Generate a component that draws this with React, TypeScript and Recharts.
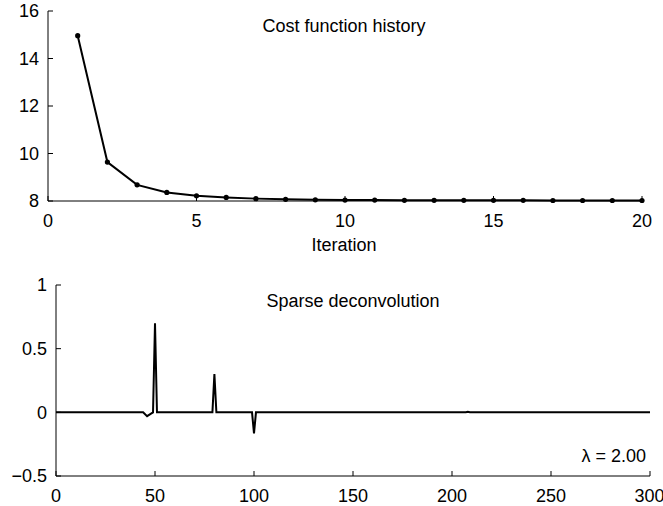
import { LineChart, Line, XAxis, YAxis } from 'recharts';

// cost function history (top panel)
const iterations = [1, 2, 3, 4, 5, 6, 7, 8, 9, 10, 11, 12, 13, 14, 15, 16, 17, 18, 19, 20];
const costValues = [14.96, 9.64, 8.68, 8.36, 8.22, 8.15, 8.1, 8.07, 8.05, 8.04, 8.04, 8.03, 8.03, 8.03, 8.03, 8.03, 8.02, 8.02, 8.02, 8.02];
const costXTicks = [0, 5, 10, 15, 20];
const costYTicks = [8, 10, 12, 14, 16];

// sparse deconvolution (bottom panel) - breakpoints of the signal
const signalIndex = [0, 44, 46, 48, 49, 50, 51, 79, 80, 81, 99, 100, 101, 207, 208, 209, 300];
const signalValue = [0, 0, -0.03, -0.01, 0, 0.7, 0, 0, 0.3, 0, 0, -0.165, 0, 0, 0.004, 0, 0];
const signalXTicks = [0, 50, 100, 150, 200, 250, 300];
const signalYTicks = [-0.5, 0, 0.5, 1];

const FONT = '"Liberation Sans", Arial, Helvetica, sans-serif';
const tickStyle = { fill: '#000', fontSize: 18, fontFamily: FONT };

const fmt = (v: number) => (v < 0 ? '\u2212' + Math.abs(v) : String(v));

export default function App() {
  const costData = iterations.map((it, i) => ({ it, cost: costValues[i] }));
  const signalData = signalIndex.map((n, i) => ({ n, v: signalValue[i] }));

  return (
    <div style={{ position: 'absolute', left: 0, top: 0, width: 663, height: 506, background: '#fff', fontFamily: FONT, overflow: 'hidden' }}>
      <div style={{ position: 'absolute', left: 0, top: 0 }}>
        <LineChart width={663} height={255} data={costData} margin={{ top: 11, right: 21, left: 8, bottom: 24 }}>
          <XAxis
            dataKey="it"
            type="number"
            domain={[0, 20]}
            ticks={costXTicks}
            stroke="#000"
            tickSize={-5}
            tickMargin={18}
            tick={tickStyle}
            height={30}
          />
          <YAxis
            type="number"
            domain={[8, 16]}
            ticks={costYTicks}
            stroke="#000"
            tickSize={-5}
            tickMargin={14}
            tick={tickStyle}
            width={40}
          />
          <Line
            dataKey="cost"
            type="linear"
            stroke="#000"
            strokeWidth={2}
            dot={{ r: 2.6, fill: '#000', stroke: '#000', strokeWidth: 0 }}
            isAnimationActive={false}
          />
        </LineChart>
      </div>

      <div style={{ position: 'absolute', left: 0, top: 260 }}>
        <LineChart width={663} height={246} data={signalData} margin={{ top: 25, right: 13, left: 8, bottom: 0 }}>
          <XAxis
            dataKey="n"
            type="number"
            domain={[0, 300]}
            ticks={signalXTicks}
            stroke="#000"
            tickSize={-5}
            tickMargin={18}
            tick={tickStyle}
            height={30}
          />
          <YAxis
            type="number"
            domain={[-0.5, 1]}
            ticks={signalYTicks}
            tickFormatter={fmt}
            stroke="#000"
            tickSize={-5}
            tickMargin={14}
            tick={tickStyle}
            width={48}
          />
          <Line dataKey="v" type="linear" stroke="#000" strokeWidth={2} dot={false} isAnimationActive={false} />
        </LineChart>
      </div>

      <div style={{ position: 'absolute', left: 244, width: 200, top: 15, textAlign: 'center', fontSize: 18, lineHeight: '22px' }}>
        Cost function history
      </div>
      <div style={{ position: 'absolute', left: 294, width: 100, top: 234, textAlign: 'center', fontSize: 18, lineHeight: '22px' }}>
        Iteration
      </div>
      <div style={{ position: 'absolute', left: 243, width: 220, top: 290, textAlign: 'center', fontSize: 18, lineHeight: '22px' }}>
        Sparse deconvolution
      </div>
      <div style={{ position: 'absolute', left: 560, width: 86, top: 445, textAlign: 'right', fontSize: 18, lineHeight: '22px' }}>
        λ = 2.00
      </div>
    </div>
  );
}
